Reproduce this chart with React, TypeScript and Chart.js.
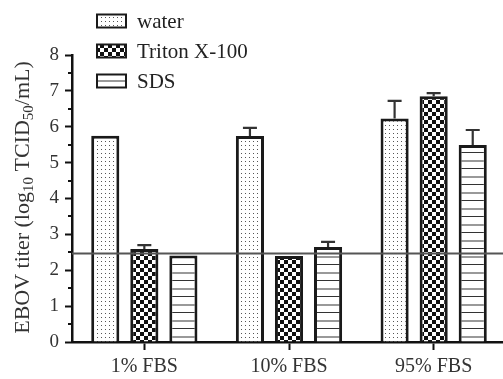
import { useEffect, useRef } from 'react';
import { Chart, registerables } from 'chart.js';

Chart.register(...registerables);

const categories = ['1% FBS', '10% FBS', '95% FBS'];
const seriesNames = ['water', 'Triton X-100', 'SDS'];
const waterValues = [5.75, 5.74, 6.23];
const tritonValues = [2.59, 2.4, 6.85];
const sdsValues = [2.41, 2.65, 5.49];
const waterErrors = [0, 0.23, 0.49];
const tritonErrors = [0.11, 0, 0.09];
const sdsErrors = [0, 0.14, 0.42];
const detectionLimit = 2.47;
const yMin = 0;
const yMax = 8;
const yStep = 1;
const yTitleParts = [
  { text: 'EBOV titer (log', sub: false },
  { text: '10', sub: true },
  { text: ' TCID', sub: false },
  { text: '50', sub: true },
  { text: '/mL)', sub: false },
];

const FONT = '"Liberation Serif", "DejaVu Serif", serif';

function makePattern(kind: string): CanvasPattern | string {
  const c = document.createElement('canvas');
  const g = c.getContext('2d');
  if (!g) return '#fff';
  if (kind === 'dots') {
    c.width = 4; c.height = 4;
    g.fillStyle = '#fff'; g.fillRect(0, 0, 4, 4);
    g.fillStyle = '#555'; g.fillRect(1, 1, 1, 1);
  } else if (kind === 'checker') {
    c.width = 8; c.height = 8;
    g.fillStyle = '#fff'; g.fillRect(0, 0, 8, 8);
    g.fillStyle = '#111'; g.fillRect(0, 0, 4, 4); g.fillRect(4, 4, 4, 4);
  } else {
    c.width = 4; c.height = 16;
    g.fillStyle = '#fff'; g.fillRect(0, 0, 4, 16);
    g.fillStyle = '#999'; g.fillRect(0, 0, 4, 2);
    g.fillStyle = '#333'; g.fillRect(0, 8, 4, 1);
  }
  return g.createPattern(c, 'repeat') || '#fff';
}

export default function App() {
  const ref = useRef<HTMLCanvasElement | null>(null);

  useEffect(() => {
    if (!ref.current) return;
    const patterns = [makePattern('dots'), makePattern('checker'), makePattern('lines')];
    const errorSets = [waterErrors, tritonErrors, sdsErrors];
    const valueSets = [waterValues, tritonValues, sdsValues];

    const extras = {
      id: 'extras',
      afterDatasetsDraw(chart: any) {
        const ctx = chart.ctx;
        const y = chart.scales.y;
        const area = chart.chartArea;
        chart.data.datasets.forEach((ds: any, i: number) => {
          const meta = chart.getDatasetMeta(i);
          meta.data.forEach((bar: any, j: number) => {
            const e = errorSets[i][j];
            if (!e) return;
            const v = ds.data[j];
            const top = y.getPixelForValue(v + e);
            const base = y.getPixelForValue(v);
            ctx.save();
            ctx.strokeStyle = '#333';
            ctx.lineWidth = 2.2;
            ctx.beginPath();
            ctx.moveTo(bar.x, base);
            ctx.lineTo(bar.x, top);
            ctx.moveTo(bar.x - 7, top);
            ctx.lineTo(bar.x + 7, top);
            ctx.stroke();
            ctx.restore();
          });
        });
        const ly = y.getPixelForValue(detectionLimit);
        ctx.save();
        ctx.strokeStyle = '#555';
        ctx.lineWidth = 2;
        ctx.beginPath();
        ctx.moveTo(area.left, ly);
        ctx.lineTo(area.right, ly);
        ctx.stroke();
        ctx.restore();
      },
      afterDraw(chart: any) {
        const ctx = chart.ctx;
        const y = chart.scales.y;
        const area = chart.chartArea;
        ctx.save();
        ctx.strokeStyle = '#111';
        ctx.lineWidth = 2;
        for (let v = yMin + yStep / 2; v < yMax; v += yStep) {
          const py = Math.round(y.getPixelForValue(v));
          ctx.beginPath();
          ctx.moveTo(area.left - 4, py);
          ctx.lineTo(area.left, py);
          ctx.stroke();
        }
        ctx.restore();
        ctx.save();
        const mainFont = `22px ${FONT}`;
        const subFont = `15px ${FONT}`;
        let total = 0;
        yTitleParts.forEach((p) => {
          ctx.font = p.sub ? subFont : mainFont;
          total += ctx.measureText(p.text).width;
        });
        const cy = (area.top + area.bottom) / 2 - 1;
        ctx.translate(22, cy);
        ctx.rotate(-Math.PI / 2);
        ctx.fillStyle = '#333';
        ctx.textBaseline = 'alphabetic';
        ctx.textAlign = 'left';
        let x = -total / 2;
        yTitleParts.forEach((p) => {
          ctx.font = p.sub ? subFont : mainFont;
          ctx.fillText(p.text, x, p.sub ? 11 : 7);
          x += ctx.measureText(p.text).width;
        });
        ctx.restore();
        const rows = [21, 51, 81];
        ctx.save();
        seriesNames.forEach((name, i) => {
          const cyRow = rows[i];
          ctx.fillStyle = patterns[i] as any;
          ctx.fillRect(97, cyRow - 6.5, 29, 13);
          ctx.strokeStyle = '#1a1a1a';
          ctx.lineWidth = 2;
          ctx.strokeRect(97, cyRow - 6.5, 29, 13);
          ctx.fillStyle = '#222';
          ctx.font = `21px ${FONT}`;
          ctx.textBaseline = 'middle';
          ctx.textAlign = 'left';
          ctx.fillText(name, 137, cyRow + 1);
        });
        ctx.restore();
      },
    };

    const chart = new Chart(ref.current, {
      type: 'bar',
      data: {
        labels: categories,
        datasets: seriesNames.map((name, i) => ({
          label: name,
          data: valueSets[i],
          backgroundColor: patterns[i] as any,
          borderColor: '#1a1a1a',
          borderWidth: 3,
          categoryPercentage: 0.81,
          barPercentage: 0.72,
        })),
      },
      options: {
        responsive: false,
        animation: false,
        devicePixelRatio: 1,
        layout: { padding: { top: 55, left: 0, right: 0, bottom: 0 } },
        plugins: {
          legend: { display: false },
          tooltip: { enabled: false },
        },
        scales: {
          x: {
            type: 'category',
            grid: {
              offset: false,
              drawOnChartArea: false,
              drawTicks: true,
              tickLength: 8,
              tickWidth: 2,
              tickColor: '#111',
            },
            border: { display: true, width: 2.5, color: '#111' },
            ticks: {
              font: { family: FONT, size: 20 },
              color: '#333',
              padding: 5,
              maxRotation: 0,
            },
            afterFit: (s: any) => { s.height = 37; },
          },
          y: {
            min: yMin,
            max: yMax,
            grid: {
              drawOnChartArea: false,
              drawTicks: true,
              tickLength: 7,
              tickWidth: 2,
              tickColor: '#111',
            },
            border: { display: true, width: 2.5, color: '#111' },
            ticks: {
              stepSize: yStep,
              font: { family: FONT, size: 19 },
              color: '#333',
              padding: 6,
            },
            afterFit: (s: any) => { s.width = 72; },
          },
        },
      },
      plugins: [extras],
    } as any);

    return () => chart.destroy();
  }, []);

  return (
    <div style={{ position: 'absolute', left: 0, top: 0, width: 503, height: 379, overflow: 'hidden', background: '#fff' }}>
      <canvas ref={ref} width={506} height={379} style={{ display: 'block' }} />
    </div>
  );
}
